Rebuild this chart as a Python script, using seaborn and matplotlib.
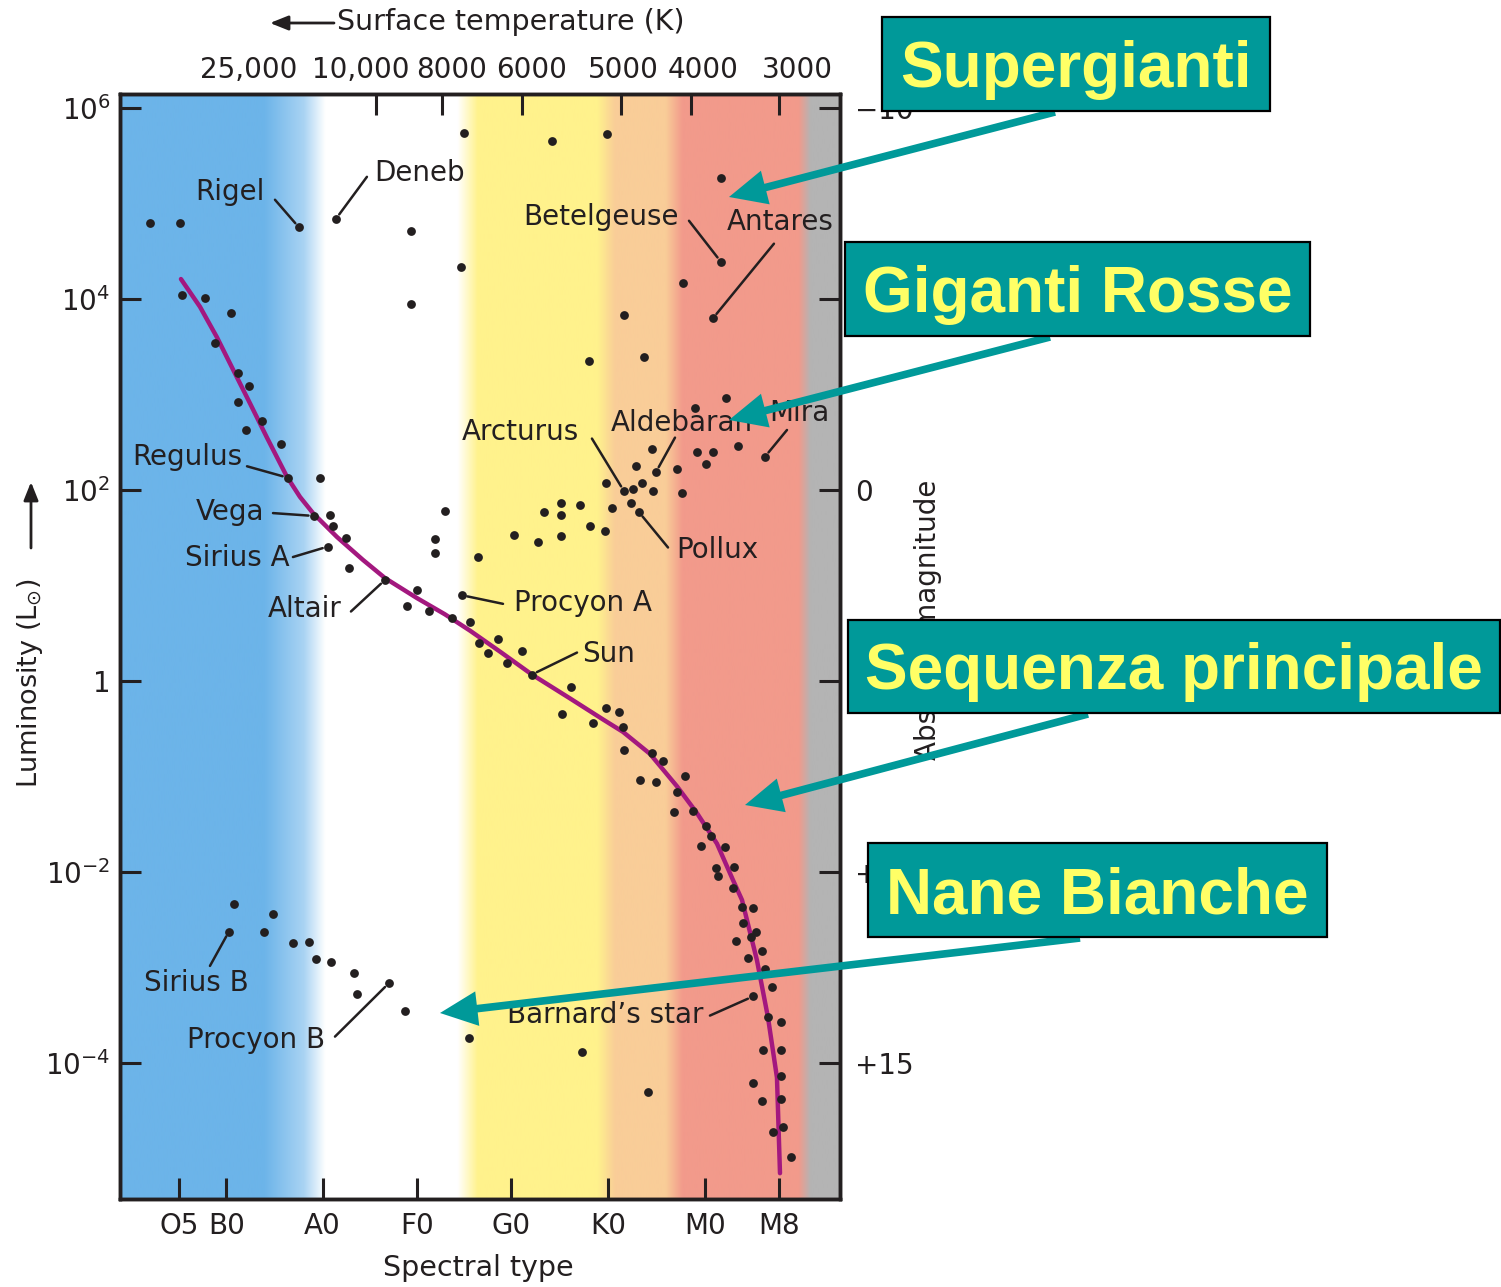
import numpy as np
import pandas as pd
import matplotlib
matplotlib.use("Agg")
import matplotlib.pyplot as plt
import seaborn as sns
from matplotlib.colors import LinearSegmentedColormap
from matplotlib.patches import Rectangle, FancyArrowPatch
from matplotlib.ticker import NullLocator

# ---------------------------------------------------------------- data
# x = spectral index (O0 = 0, B0 = 10, A0 = 20, ...), y = log10(L / Lsun)
SPECTRAL_TYPES = ["O5", "B0", "A0", "F0", "G0", "K0", "M0", "M8"]
SPECTRAL_POS = [5.0, 10.0, 20.2, 30.2, 40.1, 50.4, 60.7, 68.5]

TEMP_LABELS = ["25,000", "10,000", "8000", "6000", "5000", "4000", "3000"]
TEMP_TICK_POS = [12.4, 25.9, 32.8, 41.3, 51.8, 59.2, 68.5]
TEMP_LABEL_POS = [12.4, 24.2, 33.8, 42.3, 52.0, 60.5, 70.4]

LUM_TICKS_LOG = [6, 4, 2, 0, -2, -4]
LUM_LABELS = [r"$10^{6}$", r"$10^{4}$", r"$10^{2}$", "1", r"$10^{-2}$", r"$10^{-4}$"]
MAG_LABELS = ["\u221210", "", "0", "", "+10", "+15"]   # -5 / +5 are hidden under the callouts

XLIM = (-1.24, 74.95)
LOGL_LIM = (-5.42, 6.147)

# giants / supergiants (unlabelled)
GIANT_S = [1.93, 5.11, 29.55, 35.16, 34.84, 29.55, 44.47, 50.29, 62.35, 58.33,
           52.09, 48.39, 54.21, 62.88, 59.60, 55.05, 59.81, 61.51, 64.15, 53.36,
           57.70, 60.77, 50.18, 53.04, 53.99, 55.16, 58.23, 52.83, 50.82, 47.43,
           45.42, 45.42, 43.62, 48.49, 50.08, 40.45, 42.99, 45.42, 36.64, 33.15,
           32.09, 32.09]
GIANT_LOGL = [4.80, 4.80, 4.71, 5.74, 4.34, 3.95, 5.65, 5.73, 5.27, 4.17,
              3.83, 3.35, 3.39, 2.97, 2.86, 2.43, 2.40, 2.40, 2.46, 2.25,
              2.22, 2.27, 2.08, 2.01, 2.08, 1.99, 1.97, 1.87, 1.81, 1.84,
              1.87, 1.74, 1.77, 1.62, 1.57, 1.53, 1.46, 1.52, 1.30, 1.78,
              1.49, 1.34]

# main sequence (unlabelled)
MS_S = [5.32, 7.75, 10.50, 8.81, 11.24, 12.41, 11.24, 13.78, 12.09, 15.79,
        19.92, 20.98, 21.30, 22.67, 22.99, 30.19, 29.13, 31.46, 33.89, 35.79,
        36.75, 37.70, 38.76, 41.30, 39.71, 46.48, 45.53, 50.18, 51.56, 48.81,
        51.98, 52.09, 55.05, 56.22, 58.55, 53.78, 55.48, 57.70, 57.38, 59.39,
        60.77, 61.30, 60.24, 62.78, 61.83, 63.73, 62.04, 63.62, 64.58, 65.74,
        64.68, 66.06, 65.53, 63.94, 66.69, 65.21, 67.01, 67.75, 67.33, 68.70,
        66.80, 68.70, 68.70, 65.74, 66.69, 68.70, 67.86, 68.92, 69.76]
MS_LOGL = [4.04, 4.01, 3.85, 3.54, 3.23, 3.09, 2.92, 2.72, 2.63, 2.48,
           2.13, 1.74, 1.62, 1.50, 1.19, 0.95, 0.79, 0.74, 0.66, 0.62,
           0.40, 0.30, 0.44, 0.32, 0.19, -0.06, -0.34, -0.28, -0.32, -0.44,
           -0.48, -0.72, -0.75, -0.83, -0.99, -1.03, -1.06, -1.16, -1.37, -1.36,
           -1.52, -1.62, -1.72, -1.74, -1.95, -1.94, -2.04, -2.16, -2.36, -2.37,
           -2.53, -2.63, -2.68, -2.72, -2.82, -2.90, -3.01, -3.20, -3.51, -3.57,
           -3.86, -3.86, -4.13, -4.21, -4.39, -4.37, -4.72, -4.67, -4.98]

# white dwarfs and other faint stars (unlabelled)
WD_S = [10.82, 14.95, 14.00, 17.06, 18.76, 19.50, 21.08, 23.52, 23.84, 28.92,
        35.69, 47.65, 54.63]
WD_LOGL = [-2.33, -2.44, -2.63, -2.74, -2.73, -2.91, -2.94, -3.05, -3.27, -3.45,
           -3.73, -3.88, -4.30]

# labelled stars
STAR_NAMES = ["Rigel", "Deneb", "Betelgeuse", "Antares", "Mira", "Aldebaran",
              "Arcturus", "Pollux", "Regulus", "Vega", "Sirius A", "Altair",
              "Procyon A", "Sun", "Barnard\u2019s star", "Sirius B", "Procyon B"]
STAR_S = [17.70, 21.61, 62.35, 61.51, 67.01, 55.48, 52.09, 53.68, 16.53, 19.29,
          20.77, 26.80, 34.95, 42.35, 65.74, 10.29, 27.22]
STAR_LOGL = [4.75, 4.84, 4.39, 3.80, 2.35, 2.19, 1.99, 1.77, 2.13, 1.73,
             1.41, 1.06, 0.90, 0.07, -3.30, -2.62, -3.16]
TEXT_S = [10.40, 30.50, 49.66, 68.60, 70.61, 58.23, 41.08, 61.93, 5.85, 10.40,
          11.14, 18.33, 47.75, 50.50, 50.08, 6.80, 13.15]
TEXT_LOGL = [5.12, 5.32, 4.86, 4.81, 2.81, 2.70, 2.61, 1.37, 2.35, 1.77,
             1.29, 0.76, 0.82, 0.29, -3.49, -3.16, -3.76]
LEAD_S = [15.16, 24.89, 58.97, 67.96, 69.34, 57.49, 48.70, 56.75, 12.20, 14.95,
          17.06, 23.20, 39.29, 47.12, 61.19, 8.28, 21.51]
LEAD_LOGL = [5.04, 5.28, 4.82, 4.58, 2.63, 2.55, 2.54, 1.40, 2.25, 1.76,
             1.30, 0.73, 0.81, 0.30, -3.50, -2.98, -3.72]

# main-sequence line
CURVE_S = [5.21, 7.22, 9.02, 11.14, 12.51, 14.31, 16.43, 17.80, 19.18, 21.72,
           24.47, 26.80, 30.19, 33.15, 35.79, 38.97, 42.35, 46.38, 49.87, 51.98,
           54.84, 57.70, 59.81, 61.93, 63.62, 64.58, 66.16, 67.33, 68.28, 68.60]
CURVE_LOGL = [4.21, 3.92, 3.60, 3.18, 2.91, 2.55, 2.14, 1.93, 1.76, 1.51,
              1.27, 1.08, 0.87, 0.70, 0.53, 0.31, 0.07, -0.18, -0.40, -0.53,
              -0.76, -1.10, -1.38, -1.70, -2.08, -2.29, -2.92, -3.52, -4.15, -5.15]

CALLOUT_TEXTS = ["Supergianti", "Giganti Rosse", "Sequenza principale", "Nane Bianche"]

# ---------------------------------------------------------------- style
INK = "#231F20"
TEAL = "#009999"
CALLOUT_YELLOW = "#FFFF66"
CURVE_COLOR = "#A3187F"
BAND_STOPS = [0.0, 0.200, 0.255, 0.285, 0.469, 0.497, 0.663, 0.688, 0.758, 0.782, 0.943, 0.960, 1.0]
BAND_COLORS = ["#6CB4E9", "#6CB4E9", "#A9D3F3", "#FFFFFF", "#FFFFFF", "#FFF28C", "#FFF28C",
               "#F9CD98", "#F9CD98", "#F29A8B", "#F29A8B", "#B4B4B4", "#B4B4B4"]

W, H = 1501, 1287


def fx(px):
    return px / W


def fy(py):
    return 1 - py / H


# layout (pixels) of callout boxes and their arrows
CALLOUT_BOXES = [(882, 17, 1270, 111), (845, 242, 1310, 336),
                 (848, 620, 1500, 713), (868, 843, 1327, 937)]
CALLOUT_ARROWS = [(1055, 112, 729, 197), (1050, 337, 729, 420),
                  (1088, 714, 745, 805), (1080, 938, 440, 1013)]

sns.set_theme(style="white")
plt.rcParams["font.family"] = ["DejaVu Sans"]
plt.rcParams["text.color"] = INK

fig = plt.figure(figsize=(W / 100, H / 100), dpi=100)
rect = [fx(120), fy(1199), (840 - 120) / W, (1199 - 94) / H]

# background colour bands
bg = fig.add_axes(rect, zorder=-1)
band_cmap = LinearSegmentedColormap.from_list("bands", list(zip(BAND_STOPS, BAND_COLORS)), N=1024)
bg.imshow(np.linspace(0, 1, 1024)[None, :], cmap=band_cmap, aspect="auto",
          extent=[0, 1, 0, 1], interpolation="bilinear")
bg.set_axis_off()

ax = fig.add_axes(rect, zorder=1)
ax.patch.set_visible(False)

all_s = GIANT_S + MS_S + WD_S + STAR_S
all_logl = GIANT_LOGL + MS_LOGL + WD_LOGL + STAR_LOGL
df = pd.DataFrame({"s": all_s, "L": 10.0 ** np.array(all_logl)})
curve = pd.DataFrame({"s": CURVE_S, "L": 10.0 ** np.array(CURVE_LOGL)})

sns.lineplot(data=curve, x="s", y="L", sort=False, estimator=None,
             color=CURVE_COLOR, linewidth=3.2, ax=ax, zorder=3)
sns.scatterplot(data=df, x="s", y="L", color=INK, s=40, linewidth=0,
                ax=ax, zorder=4, legend=False)

ax.set_yscale("log")
ax.set_xlim(*XLIM)
ax.set_ylim(10 ** LOGL_LIM[0], 10 ** LOGL_LIM[1])
ax.set_xlabel("")
ax.set_ylabel("")
ax.set_xticks(SPECTRAL_POS, SPECTRAL_TYPES)
ax.set_yticks(10.0 ** np.array(LUM_TICKS_LOG), LUM_LABELS)
ax.yaxis.set_minor_locator(NullLocator())
ax.tick_params(axis="both", which="major", direction="in", length=15, width=2.2,
               color=INK, labelcolor=INK, labelsize=20)
ax.tick_params(axis="x", pad=9)
ax.tick_params(axis="y", pad=7)
for sp in ax.spines.values():
    sp.set_linewidth(2.4)
    sp.set_color(INK)

# right axis: absolute magnitude
ax_r = ax.twinx()
ax_r.set_yscale("log")
ax_r.set_ylim(ax.get_ylim())
ax_r.set_yticks(10.0 ** np.array(LUM_TICKS_LOG), MAG_LABELS)
ax_r.yaxis.set_minor_locator(NullLocator())
ax_r.tick_params(axis="y", direction="in", length=15, width=2.2, color=INK,
                 labelcolor=INK, labelsize=20, pad=11)
ax_r.grid(False)

# top axis: surface temperature
ax_t = ax.twiny()
ax_t.set_xlim(*XLIM)
ax_t.set_xticks(TEMP_TICK_POS, minor=True)
ax_t.set_xticks(TEMP_LABEL_POS, TEMP_LABELS)
ax_t.tick_params(axis="x", which="major", length=0, labelsize=20, labelcolor=INK, pad=7)
ax_t.tick_params(axis="x", which="minor", direction="in", length=15, width=2.2, color=INK)
ax_t.grid(False)
for a in (ax_r, ax_t):
    for sp in a.spines.values():
        sp.set_linewidth(2.4)
        sp.set_color(INK)

# star labels with leader lines
for name, s, l, ts, tl, ls, ll in zip(STAR_NAMES, STAR_S, STAR_LOGL, TEXT_S, TEXT_LOGL, LEAD_S, LEAD_LOGL):
    ax.annotate("", xy=(s, 10 ** l), xytext=(ls, 10 ** ll),
                arrowprops=dict(arrowstyle="-", color=INK, lw=1.8, shrinkA=0, shrinkB=4),
                zorder=5)
    ax.text(ts, 10 ** tl, name, ha="center", va="center", fontsize=20, color=INK, zorder=5)

# axis titles
fig.text(fx(511), fy(22), "Surface temperature (K)", ha="center", va="center", fontsize=20.5, color=INK)
fig.add_artist(FancyArrowPatch((fx(334), fy(23)), (fx(270), fy(23)), transform=fig.transFigure,
                               arrowstyle="-|>,head_length=0.55,head_width=0.22", mutation_scale=20,
                               lw=2.0, color=INK, shrinkA=0, shrinkB=0))
fig.text(fx(478), fy(1268), "Spectral type", ha="center", va="center", fontsize=20.5, color=INK)
fig.text(fx(30), fy(683), r"Luminosity (L$_{\odot}$)", rotation=90, ha="center", va="center",
         fontsize=19.5, color=INK)
fig.add_artist(FancyArrowPatch((fx(31), fy(548)), (fx(31), fy(482)), transform=fig.transFigure,
                               arrowstyle="-|>,head_length=0.55,head_width=0.22", mutation_scale=20,
                               lw=2.0, color=INK, shrinkA=0, shrinkB=0))
fig.text(fx(928), fy(620), "Absolute magnitude", rotation=90, ha="center", va="center",
         fontsize=20, color=INK)

# callouts
for text, (x0, y0, x1, y1), (tx, ty, hx, hy) in zip(CALLOUT_TEXTS, CALLOUT_BOXES, CALLOUT_ARROWS):
    fig.add_artist(Rectangle((fx(x0), fy(y1)), (x1 - x0) / W, (y1 - y0) / H,
                             transform=fig.transFigure, facecolor=TEAL, edgecolor="black",
                             lw=1.6, zorder=10))
    fig.text(fx((x0 + x1) / 2), fy((y0 + y1) / 2 + 23), text, ha="center", va="baseline",
             fontsize=46, fontweight="bold", color=CALLOUT_YELLOW,
             family=["Liberation Sans", "DejaVu Sans"], zorder=11)
    fig.add_artist(FancyArrowPatch((fx(tx), fy(ty)), (fx(hx), fy(hy)), transform=fig.transFigure,
                                   arrowstyle="simple,head_length=2.7,head_width=2.5,tail_width=0.55",
                                   mutation_scale=10, color=TEAL, lw=0, shrinkA=0, shrinkB=0,
                                   zorder=9))

fig.savefig("out.png", dpi=100)
